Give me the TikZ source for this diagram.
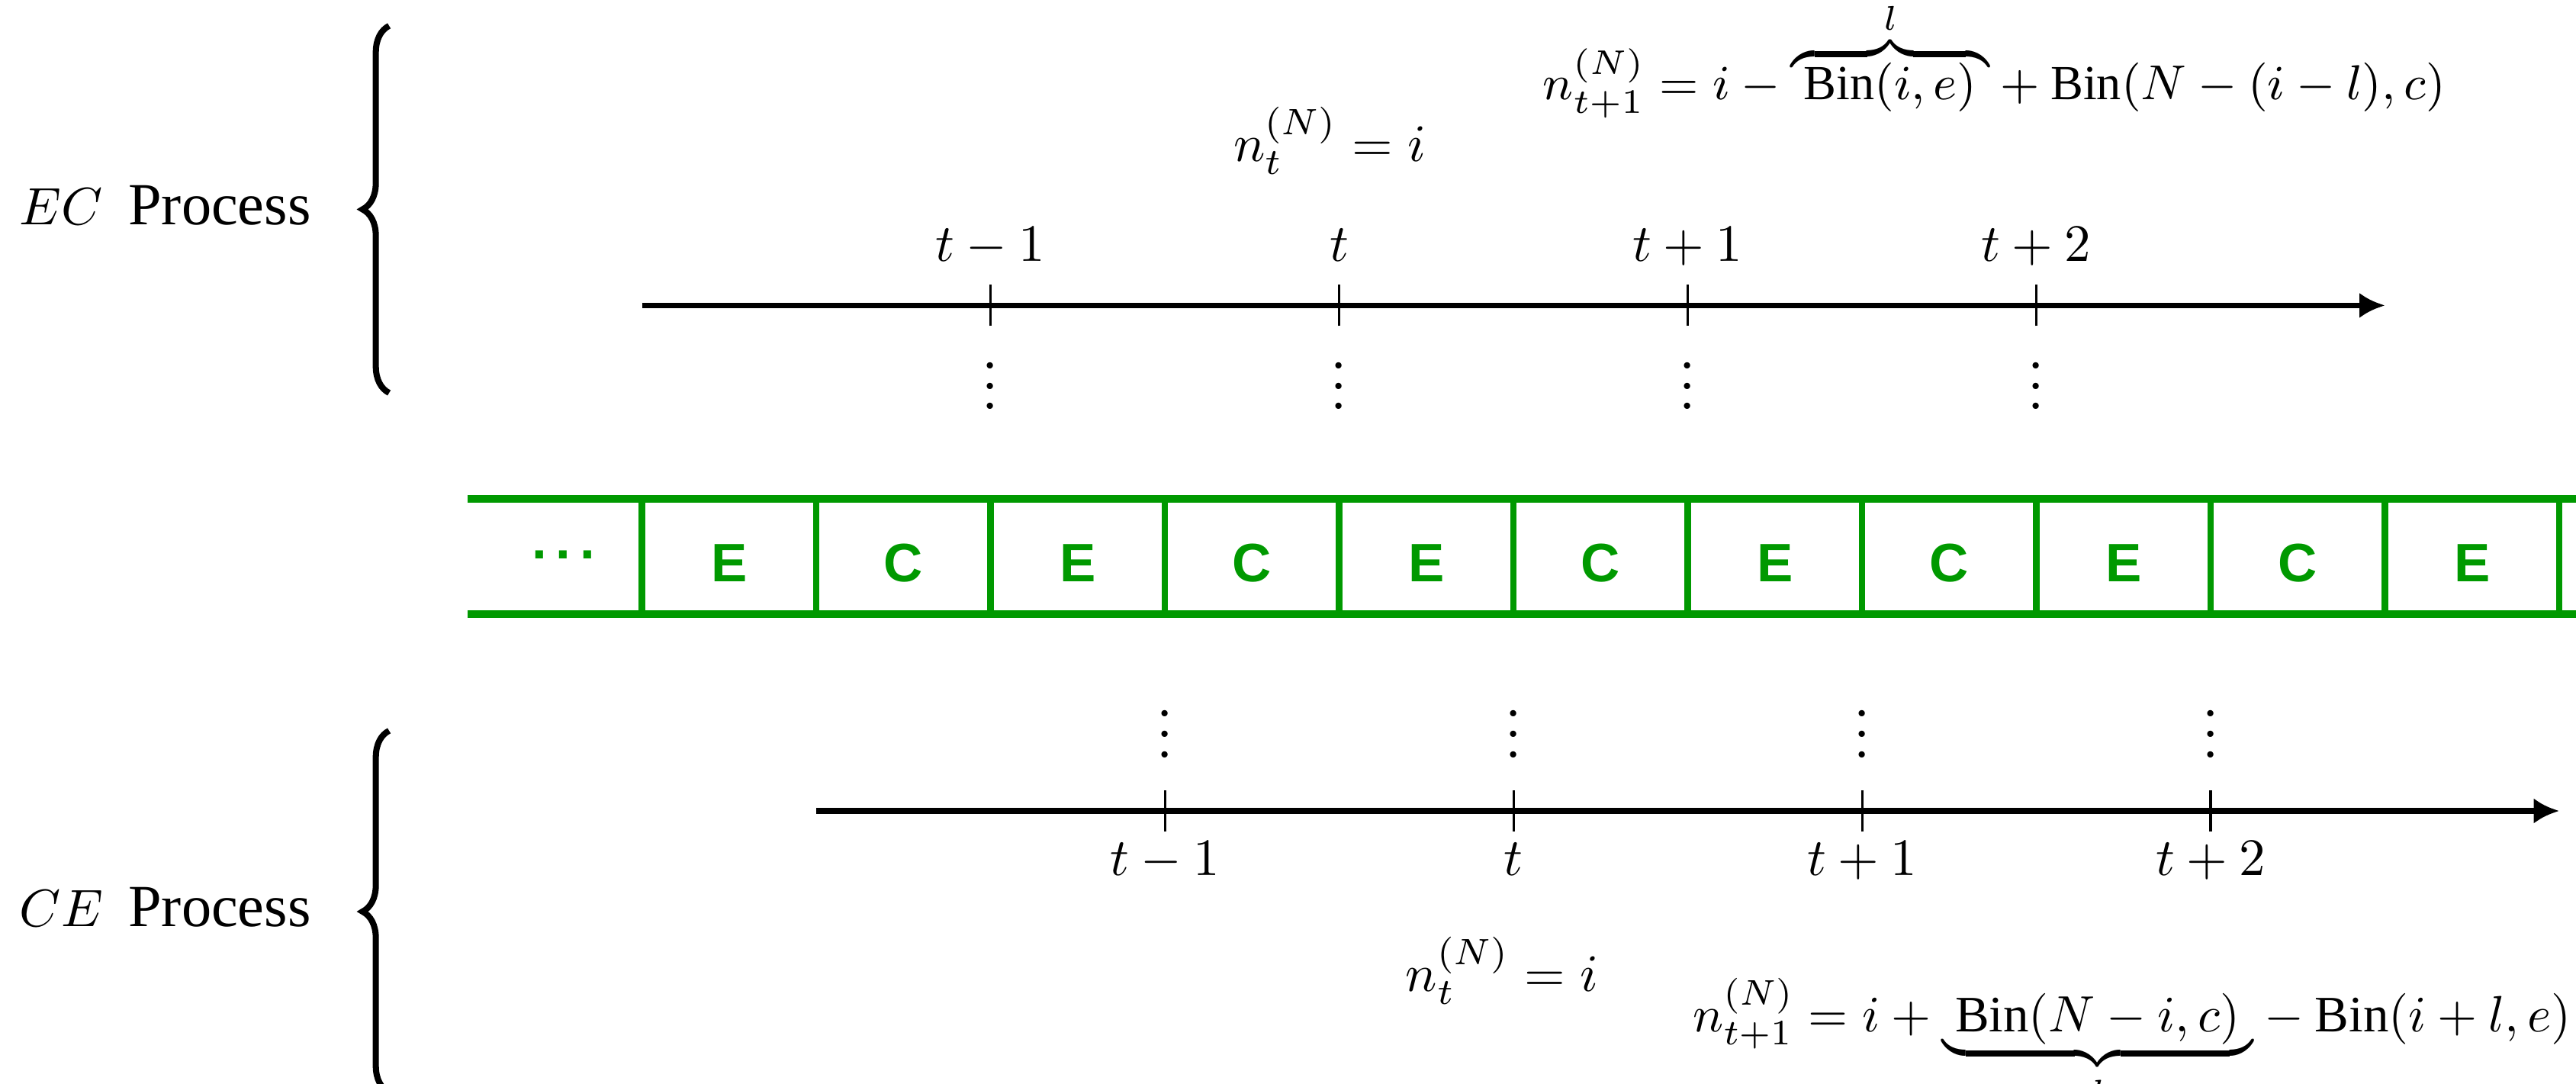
\RequirePackage{fix-cm}
\documentclass[tikz,border=0pt]{standalone}
\usepackage{amsmath}
\usepackage[no-math]{fontspec}
\setmainfont{Liberation Serif}
\newfontfamily\cellfont{Liberation Sans}
\usepackage{xcolor}
\usepackage{tikz}
\usetikzlibrary{arrows.meta, decorations.pathreplacing}
\definecolor{cellgreen}{RGB}{0,153,0}
\newcommand{\BinOp}{\text{Bin}}
\newcommand{\mathsize}{\fontsize{10.3}{12}\selectfont}
% braces that sit closer to what they mark
\newcommand{\lowoverbrace}[2]{{\mathop{\vbox{\ialign{##\crcr\noalign{\kern1pt}$\hfil\scriptstyle#2\hfil$\crcr\noalign{\kern4pt\nointerlineskip}\downbracefill\crcr\noalign{\kern1.2pt\nointerlineskip}$\hfil\displaystyle{#1}\hfil$\crcr}}}}}
\newcommand{\highunderbrace}[2]{{\mathop{\vtop{\ialign{##\crcr$\hfil\displaystyle{#1}\hfil$\crcr\noalign{\kern1.2pt\nointerlineskip}\upbracefill\crcr\noalign{\kern3pt}}}}\limits_{#2}}}
\tikzset{
    mathtext/.style={inner sep=0pt, anchor=base, font=\mathsize},
    proclabel/.style={inner sep=0pt, anchor=base east},
    procbrace/.style={decorate, decoration={brace, amplitude=5.2pt}, line width=1.2pt},
    bandline/.style={draw=cellgreen, line width=1.5pt},
    bandsep/.style={draw=cellgreen, line width=1.3pt},
    cellmark/.style={inner sep=0pt, anchor=base, text=cellgreen, font=\cellfont\bfseries\fontsize{10.6}{12}\selectfont},
    timeline/.style={line width=1.15pt, -{Latex[length=5pt,width=5pt]}, color=black},
    tickline/.style={line width=0.45pt}
}

\begin{document}
\begin{tikzpicture}
    \useasboundingbox (0,0) rectangle (17.736,7.463);

    % EC process
    \node (ecname) [proclabel] at (2.148,5.914) {{\mathsize$EC$}~~{\fontsize{11.7}{14}\selectfont Process}};
    \coordinate (ecbracebot) at (2.679,4.758);
    \coordinate (ecbracetop) at (2.679,7.285);
    \draw [procbrace] (ecbracebot) -- (ecbracetop);

    \coordinate (ecstart) at (4.42,5.36);
    \coordinate (ecend) at (16.42,5.36);
    \draw [timeline] (ecstart) -- (ecend);
    \draw [tickline] (6.82,5.218) -- (6.82,5.502);
    \draw [tickline] (9.22,5.218) -- (9.22,5.502);
    \draw [tickline] (11.62,5.218) -- (11.62,5.502);
    \draw [tickline] (14.02,5.218) -- (14.02,5.502);

    \node (ecprev) [mathtext] at (6.82,5.662) {$t-1$};
    \node (ecnow) [mathtext] at (9.22,5.662) {$t$};
    \node (ecplusone) [mathtext] at (11.62,5.662) {$t+1$};
    \node (ecplustwo) [mathtext] at (14.02,5.662) {$t+2$};

    \node (ecdotsa) [mathtext] at (6.82,4.648) {$\vdots$};
    \node (ecdotsb) [mathtext] at (9.22,4.648) {$\vdots$};
    \node (ecdotsc) [mathtext] at (11.62,4.648) {$\vdots$};
    \node (ecdotsd) [mathtext] at (14.02,4.648) {$\vdots$};

    \node (ecstate) [mathtext] at (9.155,6.35) {$n_t^{(N)} = i$};
    \node (ecnext) [mathtext, font=\fontsize{9.6}{11}\selectfont] at (13.73,6.775) {$n_{t+1}^{(N)} = i - \lowoverbrace{\ \BinOp(i,e)\ }{l} + \BinOp(N-(i-l),c)$};

    % band of cells
    \draw [bandline] (3.22,4.028) -- (17.85,4.028);
    \draw [bandline] (3.22,3.233) -- (17.85,3.233);
    \draw [bandsep] (4.42,4.028) -- (4.42,3.233);
    \draw [bandsep] (5.62,4.028) -- (5.62,3.233);
    \draw [bandsep] (6.82,4.028) -- (6.82,3.233);
    \draw [bandsep] (8.02,4.028) -- (8.02,3.233);
    \draw [bandsep] (9.22,4.028) -- (9.22,3.233);
    \draw [bandsep] (10.42,4.028) -- (10.42,3.233);
    \draw [bandsep] (11.62,4.028) -- (11.62,3.233);
    \draw [bandsep] (12.82,4.028) -- (12.82,3.233);
    \draw [bandsep] (14.02,4.028) -- (14.02,3.233);
    \draw [bandsep] (15.22,4.028) -- (15.22,3.233);
    \draw [bandsep] (16.42,4.028) -- (16.42,3.233);
    \draw [bandsep] (17.62,4.028) -- (17.62,3.233);

    \node (cell0) [cellmark] at (3.88,3.456) {\raisebox{0.43em}{.\,.\,.}};
    \node (cell1) [cellmark] at (5.02,3.456) {E};
    \node (cell2) [cellmark] at (6.22,3.456) {C};
    \node (cell3) [cellmark] at (7.42,3.456) {E};
    \node (cell4) [cellmark] at (8.62,3.456) {C};
    \node (cell5) [cellmark] at (9.82,3.456) {E};
    \node (cell6) [cellmark] at (11.02,3.456) {C};
    \node (cell7) [cellmark] at (12.22,3.456) {E};
    \node (cell8) [cellmark] at (13.42,3.456) {C};
    \node (cell9) [cellmark] at (14.62,3.456) {E};
    \node (cell10) [cellmark] at (15.82,3.456) {C};
    \node (cell11) [cellmark] at (17.02,3.456) {E};

    % CE process
    \node (cename) [proclabel] at (2.148,1.087) {{\mathsize$CE$}~~{\fontsize{11.7}{14}\selectfont Process}};
    \coordinate (cebracebot) at (2.679,-0.058);
    \coordinate (cebracetop) at (2.679,2.432);
    \draw [procbrace] (cebracebot) -- (cebracetop);

    \coordinate (cestart) at (5.62,1.88);
    \coordinate (ceend) at (17.62,1.88);
    \draw [timeline] (cestart) -- (ceend);
    \draw [tickline] (8.02,1.738) -- (8.02,2.022);
    \draw [tickline] (10.42,1.738) -- (10.42,2.022);
    \draw [tickline] (12.82,1.738) -- (12.82,2.022);
    \draw [tickline] (15.22,1.738) -- (15.22,2.022);

    \node (ceprev) [mathtext] at (8.02,1.434) {$t-1$};
    \node (cenow) [mathtext] at (10.42,1.434) {$t$};
    \node (ceplusone) [mathtext] at (12.82,1.434) {$t+1$};
    \node (ceplustwo) [mathtext] at (15.22,1.434) {$t+2$};

    \node (cedotsa) [mathtext] at (8.02,2.253) {$\vdots$};
    \node (cedotsb) [mathtext] at (10.42,2.253) {$\vdots$};
    \node (cedotsc) [mathtext] at (12.82,2.253) {$\vdots$};
    \node (cedotsd) [mathtext] at (15.22,2.253) {$\vdots$};

    \node (cestate) [mathtext] at (10.34,0.636) {$n_t^{(N)} = i$};
    \node (cenext) [mathtext, font=\fontsize{10}{12}\selectfont] at (14.68,0.362) {$n_{t+1}^{(N)} = i + \highunderbrace{\ \BinOp(N-i,c)\ }{l} - \BinOp(i+l,e)$};
\end{tikzpicture}
\end{document}
